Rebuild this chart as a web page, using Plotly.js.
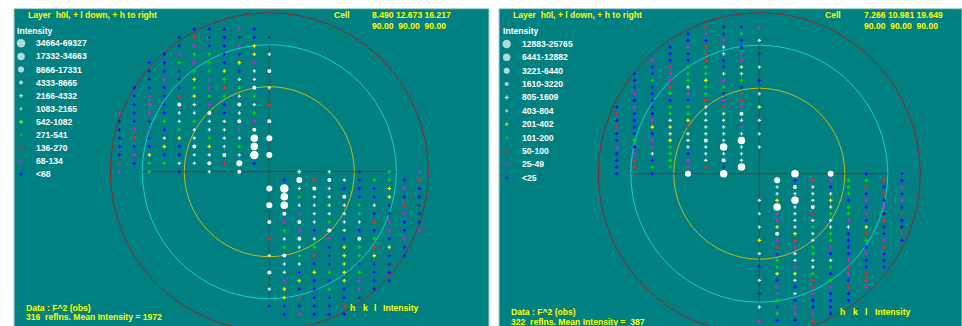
<!DOCTYPE html>
<html><head><meta charset="utf-8">
<script src="https://cdn.plot.ly/plotly-3.0.1.min.js"></script>
<style>html,body{margin:0;padding:0;background:#fff}#chart{width:962px;height:326px}</style>
</head><body><div id="chart"></div>
<script>
// ---------------- DATA ----------------
// class codes: A,B,C,D (white circles, large->small), E,F (small white), y,g,r,m,b (colour bins)
const classCodes = ['A','B','C','D','E','F','y','g','r','m','b'];

const leftTitle = "Layer\u00a0\u00a0h0l, + l down, + h to right";
const leftCell = "8.490 12.673 16.217";
const leftAngles = "90.00\u00a0\u00a090.00\u00a0\u00a090.00";
const leftBinLabels = ["34664-69327","17332-34663","8666-17331","4333-8665","2166-4332","1083-2165","542-1082","271-541","136-270","68-134","<68"];
const leftReflns = 316;
const leftMean = 1972;
const leftL = [-17,-16,-15,-14,-13,-12,-11,-10,-9,-8,-7,-6,-5,-4,-3,-2,-1,0,1,2,3,4,5,6,7,8,9,10,11,12,13,14,15,16,17];
const leftHStart = [-5,-6,-6,-7,-8,-8,-8,-9,-9,-9,-10,-10,-10,-10,-10,-10,-10,-10,1,0,1,0,1,0,1,0,1,0,1,0,1,0,1,0,1];
const leftCodes = [
 "bbbmb","brbbbbb","bmbbmy","bmggbbyF","bbgmgbym","bbbggybFD","bmbymgFF","bbbbgmrgDF","bmbryggFg","bmbDFmbDFr",
 "mbmbFFDbFg","bbbgFgFFDmD","bmmbgFFFmD","brbFyFgFFBC","bbbybDyFgB","bmybbFFDFAC","rbggFFDrCb",
 "m.g.b.F.D...E.F.b.g.m",
 "bCrDFbggbr","CAFDFbbbymb","BgFFDbbybb","CBFFyFgFbrb","DmFFFgbbmb","DmDFgFFrmbb","gmbDFbbmbm","rFDFmbDgbm",
 "gFgbygryb","FDgrbygybb","FFbbybbb","DFbygygbb","mybbymbb","Fybbgbmb","ymbbbb","bbbbbr","bmbbb"
];

const rightTitle = "Layer\u00a0\u00a0h0l, + l down, + h to right";
const rightCell = "7.266 10.981 19.649";
const rightAngles = "90.00\u00a0\u00a090.00\u00a0\u00a090.00";
const rightBinLabels = ["12883-25765","6441-12882","3221-6440","1610-3220","805-1609","403-804","201-402","101-200","50-100","25-49","<25"];
const rightReflns = 322;
const rightMean = 387;
const rightL = [-22,-21,-20,-19,-18,-17,-16,-15,-14,-13,-12,-11,-10,-9,-8,-7,-6,-5,-4,-3,-2,-1,0,1,2,3,4,5,6,7,8,9,10,11,12,13,14,15,16,17,18,19,20,21,22];
const rightHStart = [-3,-4,-4,-5,-5,-6,-6,-7,-7,-7,-7,-7,-8,-8,-8,-8,-8,-8,-8,-8,-8,-8,-8,1,1,1,0,1,0,1,0,1,0,1,0,1,0,1,0,1,0,1,0,1,0];
const rightCodes = [
 "rbbm","bmbg","bbmbF","bmrFb","bbrFmb","mbbrbm","brggbyF","bbmggyy","bgmgymgb","bbrFggb","mbgmgbrF","bbbbrmr",
 "bmbggFrmy","rbbggFyD","bbmFyFFFF","rbyyrFFm","bbbFFFFFF","bgmyFDFB","mbmgFFBFF","bmFgbFFF","brbgmFDF","brggmrbB",
 "b.b.C.B...B.C.b.b",
 "Cbrmggrb","FDFbgrbm","FFFFgbrb","FyBFybmbm","BFDFgbmb","FmFrggmbr","mFFFmbrb","FyFgFFybb","DyFgbrbr","ymrFgbgmb",
 "rmgmbbr","FbFgbbmb","gFFFmbb","bgmFgrbb","yygbmr","FbFrgbr","mbrmrm","bmFmbb","gbbbb","Fbmbb","gmmb","mbbr"
];

// ---------------- STYLE / GEOMETRY ----------------
const W = 962, H = 326;
const STYLE = {
  A:{symbol:'circle', size:8.5, color:'#ffffff'},
  B:{symbol:'circle', size:7.5, color:'#ffffff'},
  C:{symbol:'circle', size:6,   color:'#ffffff'},
  D:{symbol:'circle', size:4,   color:'#ffffff'},
  E:{symbol:'cross',  size:3.3, color:'#ffffff'},
  F:{symbol:'cross',  size:2.8, color:'#f0f0f0'},
  y:{symbol:'cross',  size:3,   color:'#ffff00'},
  g:{symbol:'cross',  size:3,   color:'#00e000'},
  r:{symbol:'cross',  size:3,   color:'#ff2020'},
  m:{symbol:'cross',  size:3,   color:'#d020d0'},
  b:{symbol:'cross',  size:3,   color:'#1010ff'}
};
const TEAL = '#008080', YEL = '#ffff00', FONT = 'Liberation Sans, Arial, sans-serif';

const panels = [
  {x0:14, x1:489, top:8.7, cx:269.3, cy:171.7, dh:15.0, dl:8.39, rO:159, rC:127, rY:85, ax:'x', ay:'y',
   L:leftL, HS:leftHStart, CODES:leftCodes, labels:leftBinLabels, title:leftTitle, cell:leftCell, ang:leftAngles,
   reflns:leftReflns, mean:leftMean,
   titleX:26, cellX:332, cellNumX:370, intX:15, legMX:21, legTX:34, legY0:43.3, legDY:13.1,
   dataX:24, dataY:307.7, refY:317, hklY:308, hklX:[348,360.7,371.7,381], meanSep:' = '},
  {x0:499, x1:962, top:8.7, cx:759.3, cy:173.7, dh:17.83, dl:6.665, rO:161, rC:128.5, rY:85.5, ax:'x2', ay:'y2',
   L:rightL, HS:rightHStart, CODES:rightCodes, labels:rightBinLabels, title:rightTitle, cell:rightCell, ang:rightAngles,
   reflns:rightReflns, mean:rightMean,
   titleX:510.7, cellX:823, cellNumX:861.7, intX:500.7, legMX:506.7, legTX:520, legY0:44, legDY:13.37,
   dataX:509.3, dataY:312, refY:322, hklY:312, hklX:[838.3,850.7,862.7,872.7], meanSep:' =\u00a0\u00a0'}
];

const traces = [], shapes = [], annotations = [];
const layout = {
  width:W, height:H, margin:{l:0,r:0,t:0,b:0,pad:0},
  paper_bgcolor:'#ffffff', plot_bgcolor:'rgba(0,0,0,0)', showlegend:false, hovermode:false,
  xaxis3:{domain:[0,1], range:[0,W], visible:false, fixedrange:true, anchor:'y3'},
  yaxis3:{domain:[0,1], range:[H,0], visible:false, fixedrange:true, anchor:'x3'}
};

function txt(x, y, text, color, size) {
  annotations.push({xref:'x3', yref:'y3', x:x, y:y, text:text, showarrow:false, xanchor:'left', yanchor:'middle',
    font:{family:FONT, size:size||8.6, color:color, weight:'bold'}});
}

panels.forEach((p, pi) => {
  const xa = pi === 0 ? 'xaxis' : 'xaxis2', ya = pi === 0 ? 'yaxis' : 'yaxis2';
  layout[xa] = {domain:[p.x0/W, p.x1/W], range:[(p.x0-p.cx)/p.dh, (p.x1-p.cx)/p.dh], visible:false, fixedrange:true, anchor:p.ay};
  layout[ya] = {domain:[0, 1-p.top/H], range:[(H-p.cy)/p.dl, (p.top-p.cy)/p.dl], visible:false, fixedrange:true, anchor:p.ax};
  // panel background
  shapes.push({type:'rect', xref:'paper', yref:'paper', x0:p.x0/W, x1:p.x1/W, y0:-0.01, y1:1-p.top/H,
    fillcolor:TEAL, line:{color:'#a9cccc', width:1}, layer:'below'});
  // resolution circles
  [[p.rO,'#8c2a2a'],[p.rC,'#10d0d0'],[p.rY,'#bcbc1c']].forEach(([r,c]) => {
    shapes.push({type:'circle', xref:p.ax, yref:p.ay, xsizemode:'pixel', ysizemode:'pixel', xanchor:0, yanchor:0,
      x0:-r, x1:r, y0:-r, y1:r, line:{color:c, width:1}, layer:'below'});
  });
  // cross hair
  shapes.push({type:'line', xref:p.ax, yref:p.ay, xsizemode:'pixel', xanchor:0, x0:-p.rC, x1:p.rC, y0:0, y1:0,
    line:{color:'#8c2a2a', width:1}, layer:'below'});
  shapes.push({type:'line', xref:p.ax, yref:p.ay, ysizemode:'pixel', yanchor:0, x0:0, x1:0, y0:-p.rC, y1:p.rC,
    line:{color:'#8c2a2a', width:1}, layer:'below'});

  // reflections
  const byClass = {};
  classCodes.forEach(c => byClass[c] = {x:[], y:[]});
  p.L.forEach((l, i) => {
    const codes = p.CODES[i];
    for (let j = 0; j < codes.length; j++) {
      const c = codes[j];
      if (c === '.') continue;
      byClass[c].x.push(p.HS[i] + j);
      byClass[c].y.push(l);
    }
  });
  classCodes.slice().reverse().forEach(c => {
    traces.push({type:'scatter', mode:'markers', x:byClass[c].x, y:byClass[c].y, xaxis:p.ax, yaxis:p.ay,
      marker:{symbol:STYLE[c].symbol, size:STYLE[c].size, color:STYLE[c].color, line:{width:0}},
      hoverinfo:'skip', cliponaxis:false});
  });

  // legend
  const lx = [], ly = [], ls = [], lsym = [], lc = [];
  classCodes.forEach((c, i) => {
    lx.push(p.legMX); ly.push(p.legY0 + i*p.legDY);
    ls.push(STYLE[c].size); lsym.push(STYLE[c].symbol); lc.push(STYLE[c].color);
    txt(p.legTX, p.legY0 + i*p.legDY, p.labels[i].replace('<','&lt;'), '#ffffff');
  });
  traces.push({type:'scatter', mode:'markers', x:lx, y:ly, xaxis:'x3', yaxis:'y3',
    marker:{symbol:lsym, size:ls, color:lc, line:{width:0}}, hoverinfo:'skip'});

  // texts
  txt(p.titleX, 15.3, p.title, YEL);
  txt(p.cellX, 15.3, 'Cell', YEL);
  txt(p.cellNumX, 15.3, p.cell, YEL);
  txt(p.cellNumX, 26, p.ang, YEL);
  txt(p.intX, 31, 'Intensity', '#ffffff');
  txt(p.dataX, p.dataY, 'Data : F^2 (obs)', YEL);
  txt(p.dataX, p.refY, p.reflns + '\u00a0\u00a0reflns. Mean Intensity' + p.meanSep + p.mean, YEL);
  ['h','k','l','Intensity'].forEach((t, i) => txt(p.hklX[i], p.hklY, t, YEL));
});

layout.shapes = shapes;
layout.annotations = annotations;
Plotly.newPlot('chart', traces, layout, {staticPlot:true, displayModeBar:false});
</script></body></html>
